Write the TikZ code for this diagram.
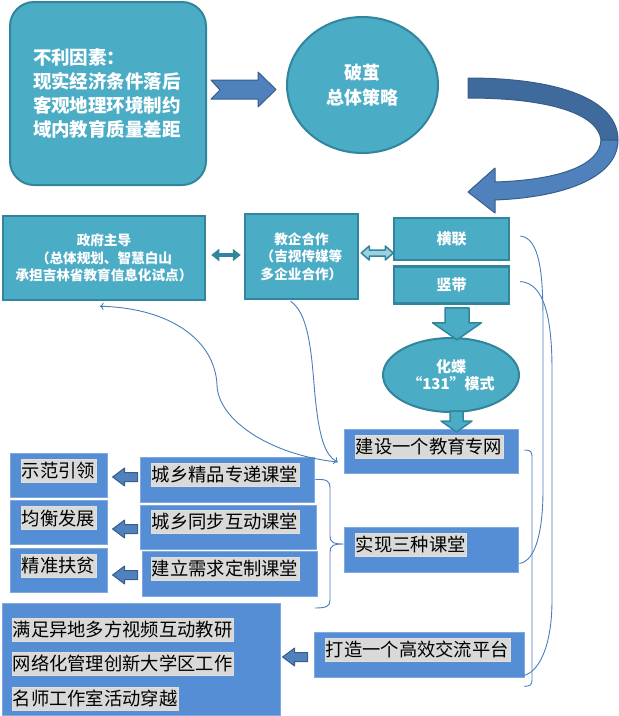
\documentclass[tikz,border=0pt]{standalone}
\usepackage{fontspec}
\setmainfont{Noto Sans CJK SC}
\usepackage{xcolor}
\usetikzlibrary{shapes,arrows,arrows.meta,positioning,calc}

\definecolor{tealfill}{HTML}{4BACC6}
\definecolor{tealline}{HTML}{31859C}
\definecolor{bluefill}{HTML}{558ED5}
\definecolor{taggray}{HTML}{D9D9D9}
\definecolor{arrowfill}{HTML}{4F81BD}
\definecolor{arrowdark}{HTML}{3E6A9C}
\definecolor{arrowline}{HTML}{385D8A}
\definecolor{linkline}{HTML}{4A7EBB}

\tikzset{
    leftblock/.pic={
        \draw[blockarrow] (0,-4.5) -- (-13,-4.5) -- (-13,-9) -- (-25,0) -- (-13,9) -- (-13,4.5) -- (0,4.5) -- cycle;
    }
}

\begin{document}
\begin{tikzpicture}[
    x=1pt, y=-1pt,
    tealbox/.style={rectangle, draw=tealline, line width=2.5pt, fill=tealfill, text=white, align=center, font=\bfseries\fontsize{13.6}{17.5}\selectfont},
    tealround/.style={ellipse, draw=tealline, line width=2pt, fill=tealfill, text=white, align=center},
    bluebox/.style={rectangle, draw=bluefill!75!white, line width=0.8pt, fill=bluefill},
    tag/.style={rectangle, draw=taggray!85!white, fill=taggray, anchor=north west, inner sep=1pt, minimum height=23pt, text=black, font=\fontsize{18.3}{20}\selectfont},
    blockarrow/.style={draw=arrowline, fill=arrowfill, line width=1pt, line join=round},
    tealarrow/.style={draw=tealline, fill=tealfill, line width=1.5pt, line join=round},
    link/.style={draw=linkline, line width=0.9pt}
]
\useasboundingbox (0,0) rectangle (619,716);

% Top row
\node[tealbox, rounded corners=24pt, line width=2pt, minimum width=196pt, minimum height=183pt, text width=150pt, align=left, font=\bfseries\fontsize{18.5}{24}\selectfont] (factors) at (108,93.5) {不利因素：\\现实经济条件落后\\客观地理环境制约\\域内教育质量差距};
\node[tealround, minimum width=151pt, minimum height=136pt, font=\bfseries\fontsize{18}{25}\selectfont] (strategy) at (362.5,85) {破茧\\总体策略};

% Second row
\node[tealbox, minimum width=202pt, minimum height=84pt] (gov) at (104,258) {政府主导\\（总体规划、智慧白山\\承担吉林省教育信息化试点）};
\node[tealbox, minimum width=113pt, minimum height=85pt] (coop) at (301.5,256.5) {教企合作\\（吉视传媒等\\多企业合作）};
\node[tealbox, minimum width=115pt, minimum height=42pt, font=\bfseries\fontsize{15}{18}\selectfont] (hl) at (451.5,239) {横联};
\node[tealbox, below=4pt of hl, minimum width=115pt, minimum height=37pt, font=\bfseries\fontsize{15}{18}\selectfont] (sd) {竖带};
\node[tealround, minimum width=136pt, minimum height=74pt, font=\bfseries\fontsize{15}{17.5}\selectfont] (bf) at (451,375) {化蝶\\“131”模式};

% Right column
\node[bluebox, minimum width=174pt, minimum height=44pt] (net) at (431,451) {};
\node[tag] (nettag) at ([shift={(11,6)}]net.north west) {建设一个教育专网};
\node[bluebox, minimum width=174pt, minimum height=45pt] (three) at (431,549.5) {};
\node[tag] (threetag) at ([shift={(11,6)}]three.north west) {实现三种课堂};
\node[bluebox, minimum width=210pt, minimum height=45pt] (plat) at (419,654.5) {};
\node[tag] (plattag) at ([shift={(11,6)}]plat.north west) {打造一个高效交流平台};

% Classrooms
\node[bluebox, minimum width=174pt, minimum height=45pt] (c1) at (227,479.5) {};
\node[tag] (c1tag) at ([shift={(11,6)}]c1.north west) {城乡精品专递课堂};
\node[bluebox, minimum width=176pt, minimum height=44pt] (c2) at (228,527) {};
\node[tag] (c2tag) at ([shift={(11,5)}]c2.north west) {城乡同步互动课堂};
\node[bluebox, minimum width=175pt, minimum height=45pt] (c3) at (229.5,573.5) {};
\node[tag] (c3tag) at ([shift={(9,6)}]c3.north west) {建立需求定制课堂};

% Goals
\node[bluebox, minimum width=97pt, minimum height=44pt] (demo) at (58.5,475) {};
\node[tag] (demotag) at ([shift={(11,6)}]demo.north west) {示范引领};
\node[bluebox, below=3pt of demo, minimum width=97pt, minimum height=44pt] (bal) {};
\node[tag] (baltag) at ([shift={(11,6)}]bal.north west) {均衡发展};
\node[bluebox, below=3pt of bal, minimum width=97pt, minimum height=44pt] (pov) {};
\node[tag] (povtag) at ([shift={(11,6)}]pov.north west) {精准扶贫};

% Platform uses
\node[bluebox, minimum width=278pt, minimum height=112pt] (big) at (141,659) {};
\node[tag] (use1) at ([shift={(10,15)}]big.north west) {满足异地多方视频互动教研};
\node[tag] (use2) at ([shift={(10,49)}]big.north west) {网络化管理创新大学区工作};
\node[tag] (use3) at ([shift={(10,84)}]big.north west) {名师工作室活动穿越};

% Block arrows
\draw[blockarrow] ([shift={(4,-13.5)}]factors.east) -- ++(47,0) -- ++(0,-8) -- ++(18,17.5) -- ++(-18,17.5) -- ++(0,-8) -- ++(-47,0) -- ++(9,-9) -- cycle;
\draw[blockarrow, fill=arrowdark] (468,78) .. controls (560,78) and (618,100) .. (618,140) -- (601,140) .. controls (598,114) and (550,98) .. (468,98) -- cycle;
\draw[blockarrow] (618,140) .. controls (618,175) and (570,197) .. (495,200) -- (495,213) -- (468,192) -- (495,168) -- (495,182) .. controls (560,180) and (600,165) .. (601,140) -- cycle;
\draw[draw=tealline, line width=4pt, {Triangle[length=8pt,width=12pt]}-{Triangle[length=8pt,width=12pt]}] ([shift={(5,-3)}]gov.east) -- ([shift={(-3,-1.5)}]coop.west);
\draw[tealarrow, fill=tealfill!55!white] ([shift={(2,-3.5)}]coop.east) -- ++(8,-7) -- ++(0,4) -- ++(16,0) -- ++(0,-4) -- ++(8,7) -- ++(-8,7) -- ++(0,-4) -- ++(-16,0) -- ++(0,4) -- cycle;
\draw[tealarrow] ([shift={(-6.5,3)}]sd.south) -- ++(24,0) -- ++(0,15) -- ++(12.5,0) -- ++(-24.5,17) -- ++(-24.5,-17) -- ++(12.5,0) -- cycle;
\draw[tealarrow] ([shift={(-1,-2)}]bf.south) -- ++(13,0) -- ++(0,10) -- ++(9,0) -- ++(-15.5,11) -- ++(-15.5,-11) -- ++(9,0) -- cycle;
\pic at ([shift={(-2,-2.5)}]c1.west) {leftblock};
\pic at ([shift={(-2,2)}]c2.west) {leftblock};
\pic at ([shift={(-4,1.5)}]c3.west) {leftblock};
\pic at ([shift={(-6,2.5)}]plat.west) {leftblock};

% Links
\draw[link, ->] ([shift={(-6,11)}]net.west) .. controls (270,455) and (218,420) .. (217,385) .. controls (215,340) and (170,308) .. ([shift={(-4,5)}]gov.south);
\draw[link, ->] ([shift={(-11,1)}]coop.south) .. controls (312,315) and (312,370) .. (316,405) .. controls (320,440) and (326,456) .. ([shift={(-6,11)}]net.west);
\draw[link] ([shift={(10,-3)}]hl.east) .. controls (540,238) and (543,275) .. (543,320) -- (543,490) .. controls (543,530) and (536,561) .. ([shift={(1,14)}]three.east);
\draw[link] ([shift={(10,-3.5)}]sd.east) .. controls (545,283) and (552,320) .. (552,370) -- (552,600) .. controls (552,650) and (537,673) .. ([shift={(-1,21)}]plat.east);
\draw[link] ([shift={(6,-1)}]net.east) .. controls (531,450) and (532,452) .. (532,457) -- (532,680) .. controls (532,685) and (530,686) .. ([shift={(0,9)}]plat.south east);
\draw[link] ([shift={(1,0)}]c1.east) .. controls (327,479) and (330,481) .. (330,488) -- (330,536) .. controls (330,542) and (333,544) .. ([shift={(0,-5.5)}]three.west) .. controls (333,544) and (330,546) .. (330,552) -- (330,600) .. controls (330,606) and (327,608) .. (315,608);

\end{tikzpicture}
\end{document}
